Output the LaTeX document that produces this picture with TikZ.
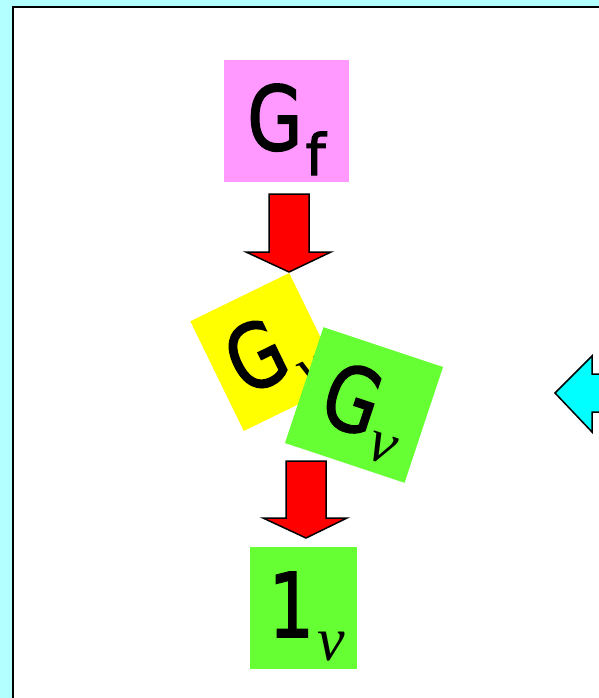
\documentclass[tikz,border=0pt]{standalone}
\usepackage{fontspec}
\setmainfont{DejaVu Sans}
\newfontfamily\symfont[FakeBold=2]{DejaVu Sans}
\newfontfamily\greekfont{Liberation Serif}
\usepackage{graphicx}

\definecolor{pagecyan}{HTML}{B3FFFF}
\definecolor{boxpink}{HTML}{FF99FF}
\definecolor{boxyellow}{HTML}{FFFF00}
\definecolor{boxgreen}{HTML}{66FF33}
\definecolor{arrowred}{HTML}{FF0000}
\definecolor{arrowcyan}{HTML}{00FFFF}

% big symbol with a lowered index
\newcommand{\bigsym}[1]{\scalebox{0.8}[1]{\symfont\fontsize{89}{89}\selectfont #1}}
\newcommand{\idxf}[1]{\raisebox{-#1pt}{\symfont\fontsize{57}{57}\selectfont f}}
\newcommand{\idxnu}[1]{\raisebox{-#1pt}{\greekfont\itshape\fontsize{62}{62}\selectfont ν}}

\tikzset{
  card/.style={inner sep=0pt, outer sep=0pt},
  cardtext/.style={inner sep=0pt, outer sep=0pt, anchor=base},
  blockarrow/.style={draw=black, line width=1.5pt, line join=miter},
}

\begin{document}
\begin{tikzpicture}[x=1pt, y=-1pt]
  \useasboundingbox (0,0) rectangle (599,698);
  \clip (0,0) rectangle (599,698);

  % page background and slide panel
  \fill[pagecyan] (0,0) rectangle (599,698);
  \draw[line width=2pt, fill=white] (13,7) rectangle (650,760);

  % G_f card
  \node[card, fill=boxpink, minimum width=125pt, minimum height=122pt] (gf) at (286.5,121) {};
  \node[cardtext] (gftext) at ([xshift=0pt, yshift=-29pt]gf.center) {\bigsym{G}\kern3pt\idxf{25}};

  % first red arrow
  \filldraw[blockarrow, fill=arrowred]
    (269,194) -- (309,194) -- (309,252) -- (331,252) -- (289,272)
    -- (246,252) -- (269,252) -- cycle;

  % tilted yellow card
  \begin{scope}[shift={(266.5,352)}, rotate=26, transform shape]
    \node[card, fill=boxyellow, minimum width=110pt, minimum height=122pt] (gy) at (0,0) {};
    \node[cardtext] (gytext) at (4,31) {\bigsym{G}\kern3pt\idxnu{22}};
  \end{scope}

  % tilted green card on top
  \begin{scope}[shift={(364,405)}, rotate=-18.4, transform shape]
    \node[card, fill=boxgreen, minimum width=126pt, minimum height=122pt] (gg) at (0,0) {};
    \node[cardtext] (ggtext) at (2,30) {\bigsym{G}\kern2pt\idxnu{20}};
  \end{scope}

  % second red arrow
  \filldraw[blockarrow, fill=arrowred]
    (286,461) -- (326,461) -- (326,518) -- (347,518) -- (306,538)
    -- (263,518) -- (286,518) -- cycle;

  % 1_nu card
  \node[card, fill=boxgreen, minimum width=107pt, minimum height=122pt] (one) at (303.5,608) {};
  \node[cardtext] (onetext) at ([xshift=3.5pt, yshift=-29pt]one.center) {\bigsym{1}\kern4pt\idxnu{23}};

  % cyan arrow pointing left
  \filldraw[blockarrow, fill=arrowcyan]
    (640,374) -- (592,374) -- (592,356) -- (555,393) -- (592,432)
    -- (592,412) -- (640,412) -- cycle;
\end{tikzpicture}
\end{document}
